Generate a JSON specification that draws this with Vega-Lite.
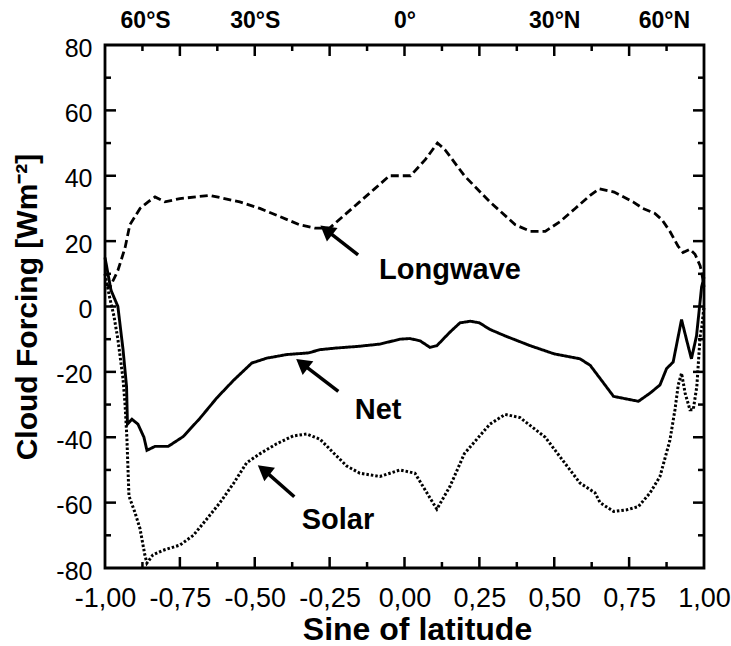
{
  "$schema": "https://vega.github.io/schema/vega-lite/v6.json",
  "autosize": {"type": "none"},
  "padding": {"left": 105, "top": 45, "right": 27, "bottom": 78},
  "width": 599,
  "height": 523,
  "background": "white",
  "config": {
    "font": "Liberation Sans",
    "view": {"stroke": "black", "strokeWidth": 2.8},
    "tick": {"opacity": 1},
    "axis": {"domain": false, "grid": false, "ticks": false, "labelColor": "black", "labelFont": "Liberation Sans", "labelFontSize": 25, "titleColor": "black", "titleFont": "Liberation Sans", "labelFlush": false, "labelOverlap": false}
  },
  "datasets": {
    "curves": [
      {"s": "Longwave", "x": -1.0, "y": 7}, {"s": "Longwave", "x": -0.983, "y": 6}, {"s": "Longwave", "x": -0.957, "y": 11}, {"s": "Longwave", "x": -0.933, "y": 18}, {"s": "Longwave", "x": -0.917, "y": 25}, {"s": "Longwave", "x": -0.883, "y": 30}, {"s": "Longwave", "x": -0.856, "y": 32}, {"s": "Longwave", "x": -0.833, "y": 33.5}, {"s": "Longwave", "x": -0.8, "y": 32}, {"s": "Longwave", "x": -0.75, "y": 33}, {"s": "Longwave", "x": -0.65, "y": 34}, {"s": "Longwave", "x": -0.55, "y": 32}, {"s": "Longwave", "x": -0.483, "y": 30}, {"s": "Longwave", "x": -0.416, "y": 27.5}, {"s": "Longwave", "x": -0.35, "y": 25}, {"s": "Longwave", "x": -0.3, "y": 24}, {"s": "Longwave", "x": -0.25, "y": 24}, {"s": "Longwave", "x": -0.2, "y": 28}, {"s": "Longwave", "x": -0.15, "y": 32}, {"s": "Longwave", "x": -0.1, "y": 36}, {"s": "Longwave", "x": -0.05, "y": 40}, {"s": "Longwave", "x": 0.02, "y": 40}, {"s": "Longwave", "x": 0.07, "y": 45}, {"s": "Longwave", "x": 0.11, "y": 50}, {"s": "Longwave", "x": 0.135, "y": 48}, {"s": "Longwave", "x": 0.2, "y": 40}, {"s": "Longwave", "x": 0.285, "y": 32}, {"s": "Longwave", "x": 0.37, "y": 25}, {"s": "Longwave", "x": 0.42, "y": 23}, {"s": "Longwave", "x": 0.47, "y": 23}, {"s": "Longwave", "x": 0.52, "y": 26}, {"s": "Longwave", "x": 0.57, "y": 30}, {"s": "Longwave", "x": 0.62, "y": 34}, {"s": "Longwave", "x": 0.65, "y": 36}, {"s": "Longwave", "x": 0.7, "y": 35}, {"s": "Longwave", "x": 0.763, "y": 32}, {"s": "Longwave", "x": 0.796, "y": 30}, {"s": "Longwave", "x": 0.836, "y": 28.5}, {"s": "Longwave", "x": 0.86, "y": 26.5}, {"s": "Longwave", "x": 0.886, "y": 23}, {"s": "Longwave", "x": 0.913, "y": 18.5}, {"s": "Longwave", "x": 0.93, "y": 16.5}, {"s": "Longwave", "x": 0.953, "y": 17.5}, {"s": "Longwave", "x": 0.97, "y": 16}, {"s": "Longwave", "x": 0.987, "y": 12.5}, {"s": "Longwave", "x": 0.993, "y": 10}, {"s": "Longwave", "x": 1.0, "y": 6},
      {"s": "Net", "x": -1.0, "y": 15}, {"s": "Net", "x": -0.98, "y": 5}, {"s": "Net", "x": -0.957, "y": 0}, {"s": "Net", "x": -0.94, "y": -13}, {"s": "Net", "x": -0.928, "y": -24.5}, {"s": "Net", "x": -0.925, "y": -36}, {"s": "Net", "x": -0.91, "y": -34.5}, {"s": "Net", "x": -0.89, "y": -36}, {"s": "Net", "x": -0.87, "y": -40}, {"s": "Net", "x": -0.86, "y": -44}, {"s": "Net", "x": -0.833, "y": -42.8}, {"s": "Net", "x": -0.789, "y": -42.8}, {"s": "Net", "x": -0.739, "y": -39.8}, {"s": "Net", "x": -0.683, "y": -34.2}, {"s": "Net", "x": -0.627, "y": -28}, {"s": "Net", "x": -0.571, "y": -22.6}, {"s": "Net", "x": -0.51, "y": -17.3}, {"s": "Net", "x": -0.46, "y": -15.8}, {"s": "Net", "x": -0.393, "y": -14.7}, {"s": "Net", "x": -0.321, "y": -14.2}, {"s": "Net", "x": -0.282, "y": -13.2}, {"s": "Net", "x": -0.227, "y": -12.7}, {"s": "Net", "x": -0.155, "y": -12.2}, {"s": "Net", "x": -0.082, "y": -11.5}, {"s": "Net", "x": -0.015, "y": -10}, {"s": "Net", "x": 0.018, "y": -9.8}, {"s": "Net", "x": 0.052, "y": -10.5}, {"s": "Net", "x": 0.085, "y": -12.5}, {"s": "Net", "x": 0.108, "y": -12}, {"s": "Net", "x": 0.15, "y": -8}, {"s": "Net", "x": 0.185, "y": -5}, {"s": "Net", "x": 0.22, "y": -4.5}, {"s": "Net", "x": 0.25, "y": -5}, {"s": "Net", "x": 0.285, "y": -7}, {"s": "Net", "x": 0.336, "y": -9}, {"s": "Net", "x": 0.42, "y": -12}, {"s": "Net", "x": 0.5, "y": -14.5}, {"s": "Net", "x": 0.586, "y": -16}, {"s": "Net", "x": 0.62, "y": -18}, {"s": "Net", "x": 0.653, "y": -22}, {"s": "Net", "x": 0.698, "y": -27.5}, {"s": "Net", "x": 0.781, "y": -29}, {"s": "Net", "x": 0.82, "y": -26.5}, {"s": "Net", "x": 0.853, "y": -24}, {"s": "Net", "x": 0.875, "y": -19}, {"s": "Net", "x": 0.897, "y": -17}, {"s": "Net", "x": 0.925, "y": -4}, {"s": "Net", "x": 0.944, "y": -11}, {"s": "Net", "x": 0.958, "y": -16}, {"s": "Net", "x": 0.975, "y": -9}, {"s": "Net", "x": 0.992, "y": 6}, {"s": "Net", "x": 1.0, "y": 9},
      {"s": "Solar", "x": -1.0, "y": 10}, {"s": "Solar", "x": -0.985, "y": 3}, {"s": "Solar", "x": -0.97, "y": -3}, {"s": "Solar", "x": -0.957, "y": -10}, {"s": "Solar", "x": -0.94, "y": -22}, {"s": "Solar", "x": -0.933, "y": -30}, {"s": "Solar", "x": -0.927, "y": -40}, {"s": "Solar", "x": -0.92, "y": -58}, {"s": "Solar", "x": -0.9, "y": -63}, {"s": "Solar", "x": -0.883, "y": -68}, {"s": "Solar", "x": -0.867, "y": -76}, {"s": "Solar", "x": -0.86, "y": -78.5}, {"s": "Solar", "x": -0.84, "y": -76}, {"s": "Solar", "x": -0.807, "y": -74.6}, {"s": "Solar", "x": -0.75, "y": -73}, {"s": "Solar", "x": -0.705, "y": -70}, {"s": "Solar", "x": -0.66, "y": -65}, {"s": "Solar", "x": -0.616, "y": -60}, {"s": "Solar", "x": -0.57, "y": -54}, {"s": "Solar", "x": -0.527, "y": -47.8}, {"s": "Solar", "x": -0.482, "y": -45}, {"s": "Solar", "x": -0.427, "y": -42}, {"s": "Solar", "x": -0.372, "y": -39.6}, {"s": "Solar", "x": -0.327, "y": -39}, {"s": "Solar", "x": -0.282, "y": -40.6}, {"s": "Solar", "x": -0.238, "y": -44.7}, {"s": "Solar", "x": -0.193, "y": -48.8}, {"s": "Solar", "x": -0.149, "y": -51}, {"s": "Solar", "x": -0.082, "y": -52}, {"s": "Solar", "x": -0.015, "y": -50}, {"s": "Solar", "x": 0.035, "y": -51}, {"s": "Solar", "x": 0.068, "y": -56}, {"s": "Solar", "x": 0.108, "y": -62}, {"s": "Solar", "x": 0.152, "y": -55}, {"s": "Solar", "x": 0.2, "y": -45}, {"s": "Solar", "x": 0.285, "y": -36}, {"s": "Solar", "x": 0.336, "y": -33}, {"s": "Solar", "x": 0.386, "y": -34}, {"s": "Solar", "x": 0.47, "y": -40}, {"s": "Solar", "x": 0.536, "y": -48}, {"s": "Solar", "x": 0.586, "y": -54}, {"s": "Solar", "x": 0.636, "y": -57}, {"s": "Solar", "x": 0.653, "y": -60}, {"s": "Solar", "x": 0.698, "y": -62.7}, {"s": "Solar", "x": 0.742, "y": -62.2}, {"s": "Solar", "x": 0.781, "y": -61.2}, {"s": "Solar", "x": 0.82, "y": -57}, {"s": "Solar", "x": 0.853, "y": -52}, {"s": "Solar", "x": 0.886, "y": -41}, {"s": "Solar", "x": 0.903, "y": -31.6}, {"s": "Solar", "x": 0.914, "y": -24}, {"s": "Solar", "x": 0.925, "y": -20.4}, {"s": "Solar", "x": 0.937, "y": -26.5}, {"s": "Solar", "x": 0.953, "y": -31.6}, {"s": "Solar", "x": 0.964, "y": -31.6}, {"s": "Solar", "x": 0.976, "y": -24.5}, {"s": "Solar", "x": 0.987, "y": -9.2}, {"s": "Solar", "x": 0.993, "y": -6}, {"s": "Solar", "x": 1.0, "y": 0}
    ],
    "arrows": [
      {"name": "Longwave", "x": -0.155, "y": 15.8, "x2": -0.261, "y2": 23.35},
      {"name": "Net", "x": -0.221, "y": -26.0, "x2": -0.342, "y2": -17.45},
      {"name": "Solar", "x": -0.368, "y": -58.2, "x2": -0.47, "y2": -49.98}
    ],
    "labels": [
      {"t": "Longwave", "x": 0.152, "y": 11.2},
      {"t": "Net", "x": -0.088, "y": -31.6},
      {"t": "Solar", "x": -0.222, "y": -65.3}
    ],
    "xmajor": [{"v": -0.75}, {"v": -0.5}, {"v": -0.25}, {"v": 0}, {"v": 0.25}, {"v": 0.5}, {"v": 0.75}],
    "xminor": [{"v": -0.875}, {"v": -0.625}, {"v": -0.375}, {"v": -0.125}, {"v": 0.125}, {"v": 0.375}, {"v": 0.625}, {"v": 0.875}],
    "ymajor": [{"v": -60}, {"v": -40}, {"v": -20}, {"v": 0}, {"v": 20}, {"v": 40}, {"v": 60}],
    "yminor": [{"v": -70}, {"v": -50}, {"v": -30}, {"v": -10}, {"v": 10}, {"v": 30}, {"v": 50}, {"v": 70}]
  },
  "resolve": {"axis": {"x": "independent", "y": "independent"}},
  "layer": [
    {
      "data": {"name": "curves"},
      "mark": {"type": "line", "color": "black", "strokeCap": "butt"},
      "encoding": {
        "x": {"field": "x", "type": "quantitative", "scale": {"domain": [-1, 1], "nice": false, "zero": false},
          "axis": {"orient": "bottom", "values": [-1, -0.75, -0.5, -0.25, 0, 0.25, 0.5, 0.75, 1], "labelPadding": 17, "labelFontSize": 27,
            "labelExpr": "replace(replace(format(datum.value, '.2f'), '.', ','), '\u2212', '-')",
            "title": "Sine of latitude", "titleFontSize": 32, "titleFontWeight": "bold", "titleX": 312, "titleY": 71, "titleBaseline": "alphabetic", "titleAlign": "center"}},
        "y": {"field": "y", "type": "quantitative", "scale": {"domain": [-80, 80], "nice": false, "zero": false},
          "axis": {"orient": "left", "values": [-80, -60, -40, -20, 0, 20, 40, 60, 80], "labelPadding": 13, "labelOffset": 3,
            "labelExpr": "replace(format(datum.value, 'd'), '\u2212', '-')",
            "title": "Cloud Forcing [Wm\u207b\u00b2]", "titleFontSize": 30, "titleFontWeight": "bold", "titleX": -78, "titleY": 261.5, "titleAngle": 270, "titleBaseline": "middle", "titleAlign": "center"}},
        "strokeDash": {"field": "s", "type": "nominal", "scale": {"domain": ["Longwave", "Net", "Solar"], "range": [[8, 4], [1, 0], [2.5, 2]]}, "legend": null},
        "strokeWidth": {"field": "s", "type": "nominal", "scale": {"domain": ["Longwave", "Net", "Solar"], "range": [2.8, 3, 3]}, "legend": null}
      }
    },
    {
      "mark": {"type": "rule", "color": "black", "strokeWidth": 2},
      "encoding": {
        "y": {"datum": 0, "type": "quantitative", "scale": {"domain": [-80, 80], "nice": false, "zero": false}, "axis": null}
      }
    },
    {
      "data": {"name": "xmajor"},
      "mark": {"type": "tick", "color": "black", "orient": "vertical", "size": 11, "thickness": 2.5, "yOffset": -5.5},
      "encoding": {
        "x": {"field": "v", "type": "quantitative", "scale": {"domain": [-1, 1], "nice": false, "zero": false}, "axis": null},
        "y": {"datum": -80, "type": "quantitative", "scale": {"domain": [-80, 80], "nice": false, "zero": false}, "axis": null}
      }
    },
    {
      "data": {"name": "xmajor"},
      "mark": {"type": "tick", "color": "black", "orient": "vertical", "size": 11, "thickness": 2.5, "yOffset": 5.5},
      "encoding": {
        "x": {"field": "v", "type": "quantitative", "scale": {"domain": [-1, 1], "nice": false, "zero": false}, "axis": null},
        "y": {"datum": 80, "type": "quantitative", "scale": {"domain": [-80, 80], "nice": false, "zero": false}, "axis": null}
      }
    },
    {
      "data": {"name": "xminor"},
      "mark": {"type": "tick", "color": "black", "orient": "vertical", "size": 6, "thickness": 2.5, "yOffset": -3},
      "encoding": {
        "x": {"field": "v", "type": "quantitative", "scale": {"domain": [-1, 1], "nice": false, "zero": false}, "axis": null},
        "y": {"datum": -80, "type": "quantitative", "scale": {"domain": [-80, 80], "nice": false, "zero": false}, "axis": null}
      }
    },
    {
      "data": {"name": "xminor"},
      "mark": {"type": "tick", "color": "black", "orient": "vertical", "size": 6, "thickness": 2.5, "yOffset": 3},
      "encoding": {
        "x": {"field": "v", "type": "quantitative", "scale": {"domain": [-1, 1], "nice": false, "zero": false}, "axis": null},
        "y": {"datum": 80, "type": "quantitative", "scale": {"domain": [-80, 80], "nice": false, "zero": false}, "axis": null}
      }
    },
    {
      "data": {"name": "ymajor"},
      "mark": {"type": "tick", "color": "black", "orient": "horizontal", "size": 11, "thickness": 2.5, "xOffset": 5.5},
      "encoding": {
        "y": {"field": "v", "type": "quantitative", "scale": {"domain": [-80, 80], "nice": false, "zero": false}, "axis": null},
        "x": {"datum": -1, "type": "quantitative", "scale": {"domain": [-1, 1], "nice": false, "zero": false}, "axis": null}
      }
    },
    {
      "data": {"name": "ymajor"},
      "mark": {"type": "tick", "color": "black", "orient": "horizontal", "size": 11, "thickness": 2.5, "xOffset": -5.5},
      "encoding": {
        "y": {"field": "v", "type": "quantitative", "scale": {"domain": [-80, 80], "nice": false, "zero": false}, "axis": null},
        "x": {"datum": 1, "type": "quantitative", "scale": {"domain": [-1, 1], "nice": false, "zero": false}, "axis": null}
      }
    },
    {
      "data": {"name": "yminor"},
      "mark": {"type": "tick", "color": "black", "orient": "horizontal", "size": 6, "thickness": 2.5, "xOffset": 3},
      "encoding": {
        "y": {"field": "v", "type": "quantitative", "scale": {"domain": [-80, 80], "nice": false, "zero": false}, "axis": null},
        "x": {"datum": -1, "type": "quantitative", "scale": {"domain": [-1, 1], "nice": false, "zero": false}, "axis": null}
      }
    },
    {
      "data": {"name": "yminor"},
      "mark": {"type": "tick", "color": "black", "orient": "horizontal", "size": 6, "thickness": 2.5, "xOffset": -3},
      "encoding": {
        "y": {"field": "v", "type": "quantitative", "scale": {"domain": [-80, 80], "nice": false, "zero": false}, "axis": null},
        "x": {"datum": 1, "type": "quantitative", "scale": {"domain": [-1, 1], "nice": false, "zero": false}, "axis": null}
      }
    },
    {
      "data": {"name": "arrows"},
      "mark": {"type": "rule", "color": "black", "strokeWidth": 3.5},
      "encoding": {
        "x": {"field": "x", "type": "quantitative", "scale": {"domain": [-1, 1], "nice": false, "zero": false}, "axis": null},
        "y": {"field": "y", "type": "quantitative", "scale": {"domain": [-80, 80], "nice": false, "zero": false}, "axis": null},
        "x2": {"field": "x2"},
        "y2": {"field": "y2"}
      }
    },
    {
      "data": {"name": "arrows"},
      "mark": {"type": "point", "shape": "triangle-up", "filled": true, "color": "black", "opacity": 1, "size": 300, "angle": 308},
      "encoding": {
        "x": {"field": "x2", "type": "quantitative", "scale": {"domain": [-1, 1], "nice": false, "zero": false}, "axis": null},
        "y": {"field": "y2", "type": "quantitative", "scale": {"domain": [-80, 80], "nice": false, "zero": false}, "axis": null}
      }
    },
    {
      "data": {"name": "labels"},
      "mark": {"type": "text", "color": "black", "font": "Liberation Sans", "fontWeight": "bold", "fontSize": 29, "align": "center", "baseline": "middle"},
      "encoding": {
        "x": {"field": "x", "type": "quantitative", "scale": {"domain": [-1, 1], "nice": false, "zero": false},
          "axis": {"orient": "top", "values": [-0.866, -0.5, 0, 0.5, 0.866], "labelPadding": 13, "labelFontWeight": "bold", "labelFontSize": 23,
            "labelExpr": "datum.value < -0.7 ? '60°S' : datum.value < -0.3 ? '30°S' : datum.value < 0.3 ? '0°' : datum.value < 0.7 ? '30°N' : '60°N'", "title": null}},
        "y": {"field": "y", "type": "quantitative", "scale": {"domain": [-80, 80], "nice": false, "zero": false}, "axis": null},
        "text": {"field": "t"}
      }
    }
  ]
}
